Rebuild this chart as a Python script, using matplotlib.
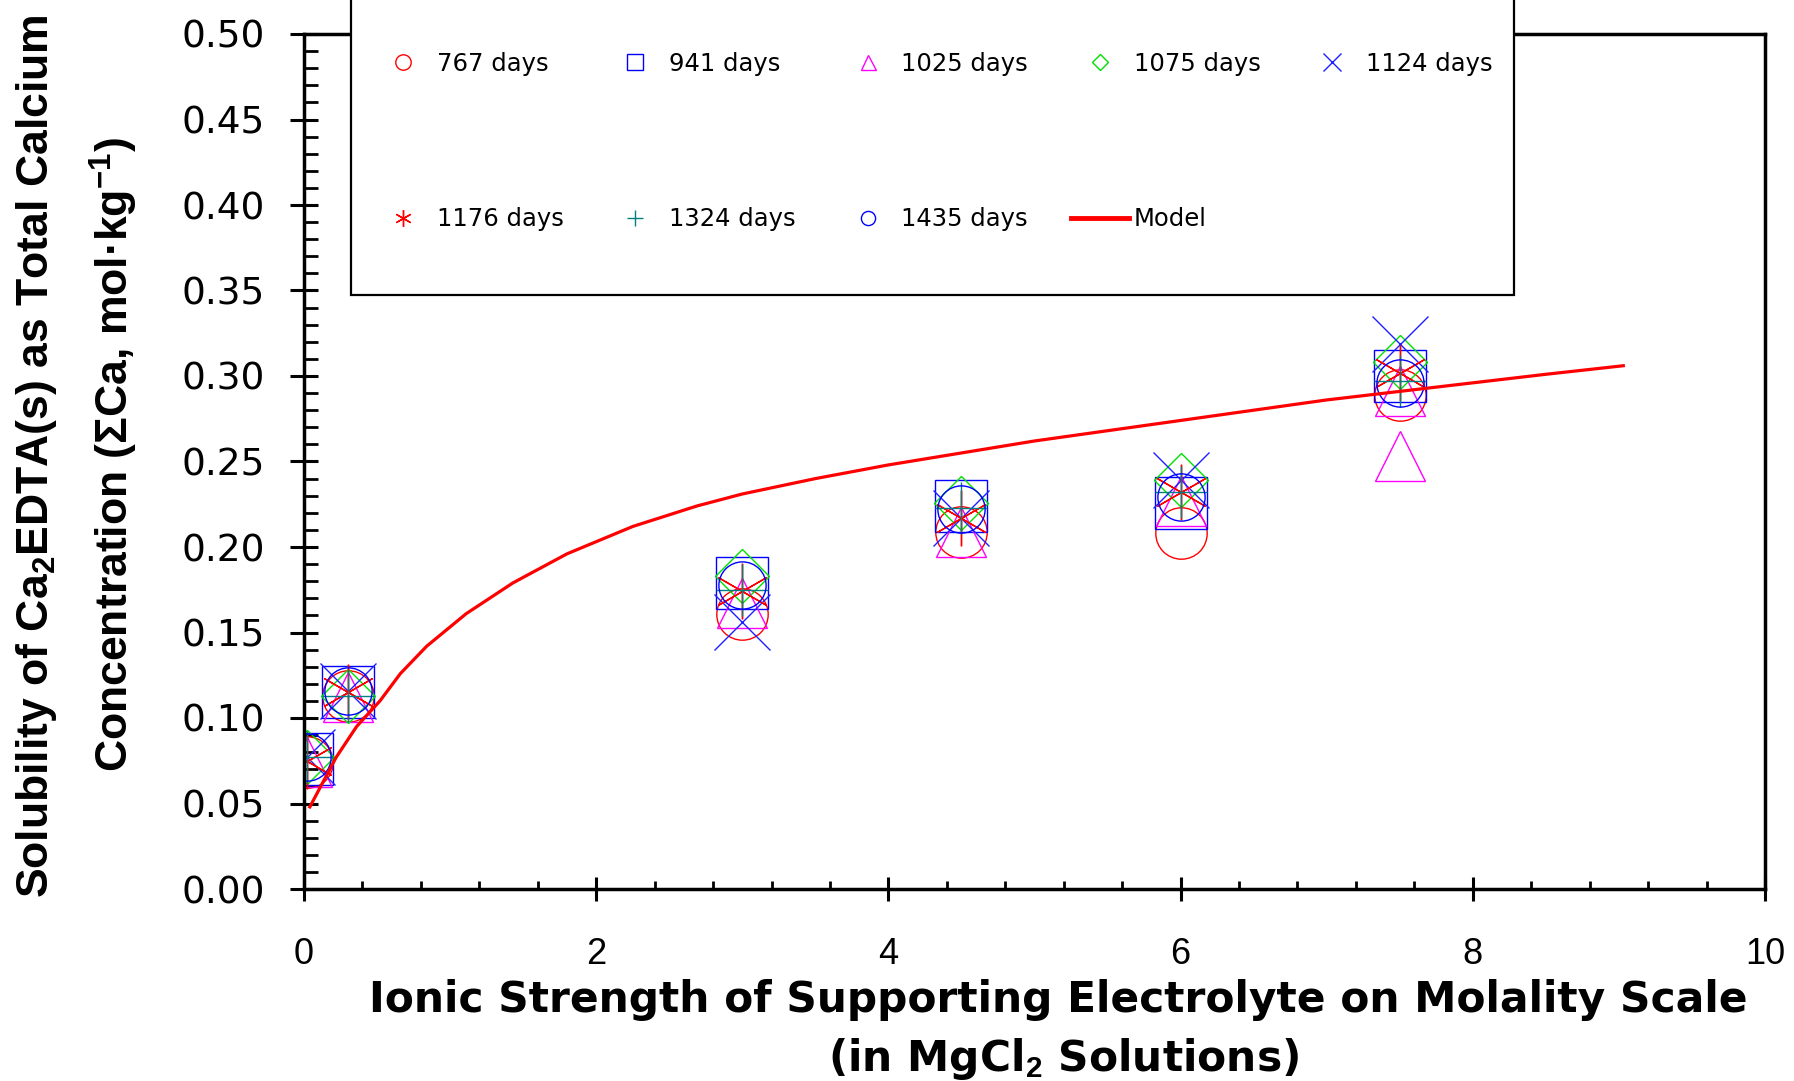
import numpy as np
import matplotlib
matplotlib.use("Agg")
import matplotlib.pyplot as plt
from matplotlib.patches import Rectangle
from matplotlib.ticker import MultipleLocator, FormatStrFormatter

plt.rcParams["font.family"] = ["Liberation Sans", "DejaVu Sans"]
plt.rcParams["mathtext.fontset"] = "custom"
plt.rcParams["mathtext.rm"] = "Liberation Sans:bold"
plt.rcParams["mathtext.it"] = "Liberation Sans:bold"
plt.rcParams["mathtext.bf"] = "Liberation Sans:bold"

# ionic strength (mol/kg) of each experiment
x_ion = [0.02, 0.3, 3.0, 4.5, 6.0, 7.5]

# measured total Ca per equilibration time
ca_767 = [0.074, 0.113, 0.161, 0.209, 0.208, 0.289]
ca_941 = [0.076, 0.115, 0.179, 0.224, 0.226, 0.300]
x_1025 = [0.02, 0.3, 3.0, 4.5, 6.0, 7.5, 7.5]
ca_1025 = [0.074, 0.112, 0.167, 0.209, 0.227, 0.291, 0.253]
ca_1075 = [0.077, 0.113, 0.183, 0.226, 0.239, 0.308]
ca_1124 = [0.077, 0.116, 0.156, 0.217, 0.239, 0.319]
ca_1176 = [0.075, 0.115, 0.174, 0.217, 0.232, 0.302]
ca_1324 = [0.077, 0.113, 0.175, 0.223, 0.232, 0.297]
ca_1435 = [0.077, 0.116, 0.178, 0.222, 0.229, 0.296]

# model curve
x_model = [0.04, 0.22, 0.36, 0.52, 0.66, 0.84, 1.11, 1.43, 1.80, 2.25, 2.69,
           3.0, 3.5, 4.0, 4.5, 5.0, 5.5, 6.0, 6.5, 7.0, 7.5, 8.0, 8.5, 9.03]
y_model = [0.048, 0.077, 0.095, 0.110, 0.126, 0.142, 0.161, 0.179, 0.196, 0.212, 0.224,
           0.231, 0.240, 0.248, 0.255, 0.262, 0.268, 0.274, 0.280, 0.286, 0.291, 0.296, 0.301, 0.306]

fig = plt.figure(figsize=(17.94, 10.81), dpi=100)
ax = fig.add_axes([304/1794, 1-889/1081, (1765-304)/1794, (889-34)/1081])

mk = dict(linestyle="none", mfc="none", mew=1.0)
ax.plot(x_ion, ca_767, marker="o", ms=37, mec="#ff0000", label="767 days", **mk)
ax.plot(x_ion, ca_941, marker="s", ms=37, mec="#0000ff", label="941 days", **mk)
ax.plot(x_1025, ca_1025, marker="^", ms=36, mec="#ff00ff", label="1025 days", **mk)
ax.plot(x_ion, ca_1075, marker="D", ms=27, mec="#00e000", label="1075 days", **mk)
ax.plot(x_ion, ca_1124, marker="x", ms=41, mec="#2020ff", label="1124 days", **mk)
ax.plot(x_ion, ca_1176, marker=(6, 2, 0), ms=40, mec="#ff0000", label="1176 days", **mk)
ax.plot(x_ion, ca_1324, marker="+", ms=38, mec="#008080", label="1324 days", **mk)
ax.plot(x_ion, ca_1435, marker="o", ms=34, mec="#0000ff", label="1435 days", **mk)
ax.plot(x_model, y_model, color="#ff0000", lw=2.3, label="Model")

ax.set_xlim(0, 10)
ax.set_ylim(0, 0.5)
ax.xaxis.set_major_locator(MultipleLocator(2))
ax.xaxis.set_minor_locator(MultipleLocator(0.4))
ax.yaxis.set_major_locator(MultipleLocator(0.05))
ax.yaxis.set_minor_locator(MultipleLocator(0.01))
ax.yaxis.set_major_formatter(FormatStrFormatter("%.2f"))

for s in ax.spines.values():
    s.set_linewidth(2.5)
ax.tick_params(axis="x", which="major", direction="inout", length=17, width=2.2, pad=26, labelsize=26)
ax.tick_params(axis="x", which="minor", direction="in", length=6, width=2.0)
ax.tick_params(axis="y", which="major", direction="inout", length=20, width=2.2, pad=18, labelsize=27)
ax.tick_params(axis="y", which="minor", direction="in", length=10, width=2.0)
for t in ax.get_yticklabels():
    t.set_fontfamily("DejaVu Sans")

# legend frame (runs off the top of the figure)
fig.add_artist(Rectangle((351/1794, 1-295/1081), (1514-351)/1794, 0.4,
                         transform=fig.transFigure, facecolor="white",
                         edgecolor="black", lw=1.6, clip_on=False))
h, l = ax.get_legend_handles_labels()
order = [0, 5, 1, 6, 2, 7, 3, 8, 4]  # fill legend row by row
leg = fig.legend([h[i] for i in order], [l[i] for i in order], loc="upper left",
                 bbox_to_anchor=(374/1794, 1-52/1081), ncol=5,
                 frameon=False, borderpad=0, borderaxespad=0, markerscale=0.3,
                 handlelength=2.39, handletextpad=0.2, columnspacing=1.75, labelspacing=5.4,
                 prop={"family": "DejaVu Sans", "size": 17.5})
leg.get_lines()[-2].set_linewidth(3.5)

fig.text(1058/1794, 1-1012/1081, "Ionic Strength of Supporting Electrolyte on Molality Scale",
         ha="center", va="baseline", fontsize=30.5, fontweight="bold", family="DejaVu Sans")
fig.text(1064/1794, 1-1071/1081, r"(in MgCl$_2$ Solutions)",
         ha="center", va="baseline", fontsize=30.5, fontweight="bold", family="DejaVu Sans")
fig.text(37/1794, 1-456/1081, r"Solubility of Ca$_2$EDTA(s) as Total Calcium",
         ha="center", va="center", rotation=90, fontsize=32, fontweight="bold")
fig.text(114/1794, 1-455/1081, r"Concentration (ΣCa, mol·kg$^{-1}$)",
         ha="center", va="center", rotation=90, fontsize=32, fontweight="bold")

fig.savefig("out.png", dpi=100)
